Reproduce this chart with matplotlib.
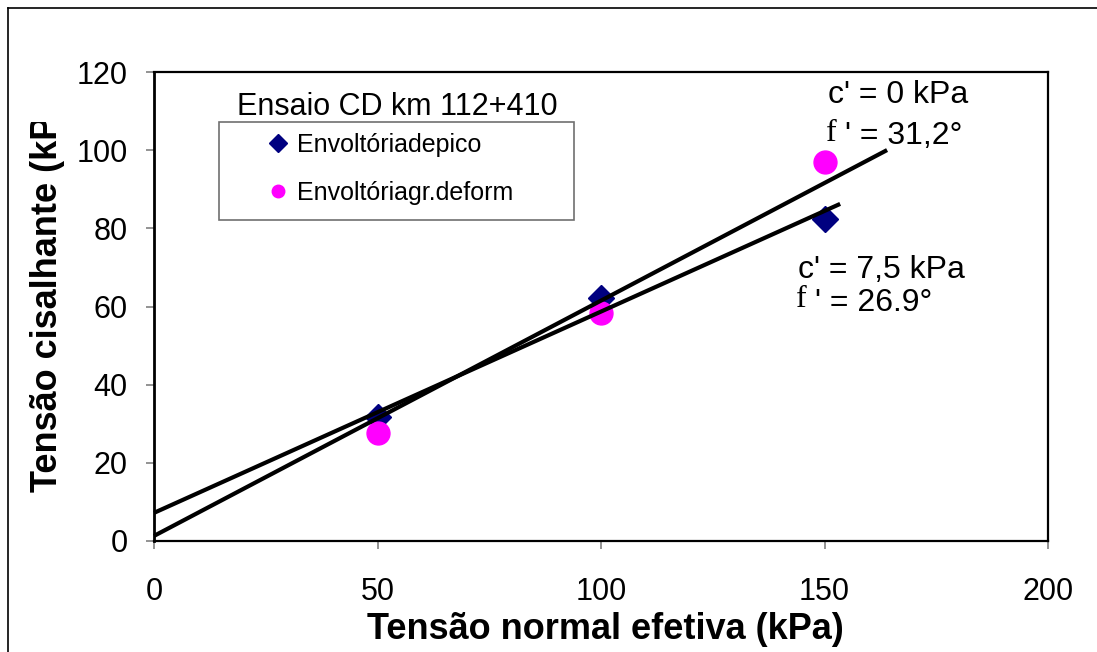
import numpy as np
import matplotlib
matplotlib.use("Agg")
import matplotlib.pyplot as plt
from matplotlib.lines import Line2D
from matplotlib.patches import Rectangle
from matplotlib.transforms import Bbox, TransformedBbox

plt.rcParams['font.family'] = ['Liberation Sans', 'DejaVu Sans']

# ---- data ----
sigma_n = [50, 100, 150]
tau_peak = [31.7, 62.3, 82.3]
tau_large = [27.6, 58.3, 97.0]
series_labels = ["Envoltóriadepico", "Envoltóriagr.deform"]
fit_intercepts = [7.2, 1.3]
fit_slopes = [0.515, 0.602]
fit_xmax = [153.5, 164.0]
x_ticks = [0, 50, 100, 150, 200]
y_ticks = [0, 20, 40, 60, 80, 100, 120]
legend_title = "Ensaio CD km 112+410"
x_label = "Tensão normal efetiva (kPa)"
y_label = "Tensão cisalhante (kPa)"

W, H = 1097, 652
fig = plt.figure(figsize=(W / 100, H / 100), dpi=100)
ax = fig.add_axes([154 / W, 1 - 541 / H, (1048 - 154) / W, (541 - 72) / H])

# markers
ax.plot(sigma_n, tau_peak, linestyle='none', marker='D', markersize=13,
        color='#000080', zorder=3)
ax.plot(sigma_n, tau_large, linestyle='none', marker='o', markersize=16.5,
        color='#FF00FF', zorder=4)

# fitted envelopes
for c, m, xm in zip(fit_intercepts, fit_slopes, fit_xmax):
    xs = np.array([0.0, xm])
    ax.plot(xs, c + m * xs, color='black', lw=3.0, zorder=5,
            solid_capstyle='butt', clip_on=False)

ax.set_xlim(0, 200)
ax.set_ylim(0, 120)
ax.set_xticks(x_ticks)
ax.set_yticks(y_ticks)
ax.tick_params(axis='both', which='major', direction='out', length=6,
               width=1.2, color='#808080', labelsize=22)
ax.tick_params(axis='y', pad=13)
ax.tick_params(axis='x', pad=20)
for s in ['top', 'right', 'bottom']:
    ax.spines[s].set_linewidth(1.6)
    ax.spines[s].set_color('black')
ax.spines['left'].set_linewidth(2.0)

# annotations
ax.text(150.8, 114.1, "c' = 0 kPa", fontsize=23, va='center', ha='left')
ax.text(150.4, 104.3, "f", fontsize=23, va='center', ha='left',
        family=['Liberation Serif', 'DejaVu Serif'])
ax.text(154.6, 103.6, "' = 31,2°", fontsize=23, va='center', ha='left')
ax.text(144.1, 69.3, "c' = 7,5 kPa", fontsize=23, va='center', ha='left')
ax.text(143.7, 61.7, "f", fontsize=23, va='center', ha='left',
        family=['Liberation Serif', 'DejaVu Serif'])
ax.text(147.9, 61.0, "' = 26.9°", fontsize=23, va='center', ha='left')

# legend title and box
ax.text((237 - 154) / 894, (541 - 107) / 469, legend_title, transform=ax.transAxes,
        fontsize=22, va='center', ha='left')
ax.add_patch(Rectangle(((219 - 154) / 894, (541 - 220) / 469), 355 / 894, 98 / 469,
                       transform=ax.transAxes, fill=False, edgecolor='#707070',
                       lw=1.2, zorder=6))
handles = [
    Line2D([], [], linestyle='none', marker='D', markersize=9, color='#000080'),
    Line2D([], [], linestyle='none', marker='o', markersize=9, color='#FF00FF'),
]
ax.legend(handles, series_labels, loc='upper left',
          bbox_to_anchor=((268 - 154) / 894, (541 - 133) / 469),
          frameon=False, fontsize=18, handlelength=0.8, handletextpad=0.35,
          labelspacing=0.95, borderpad=0, borderaxespad=0)

# axis labels (as figure texts)
fig.text(605 / W, 1 - 612 / H, x_label, fontsize=26, fontweight='bold',
         ha='center', va='top')
yl = fig.text(48 / W, 1 - 492 / H, y_label, fontsize=26, fontweight='bold',
              rotation=90, ha='center', va='bottom')
yl.set_clip_box(TransformedBbox(Bbox([[0, 0], [1, 1 - 122 / H]]), fig.transFigure))
yl.set_clip_on(True)

# outer frame
fig.add_artist(Line2D([8 / W, 8 / W], [0, 1 - 8 / H], transform=fig.transFigure,
                      color='black', lw=1.2))
fig.add_artist(Line2D([8 / W, 1], [1 - 8 / H, 1 - 8 / H], transform=fig.transFigure,
                      color='black', lw=1.2))

fig.savefig("out.png", dpi=100, facecolor='white')
